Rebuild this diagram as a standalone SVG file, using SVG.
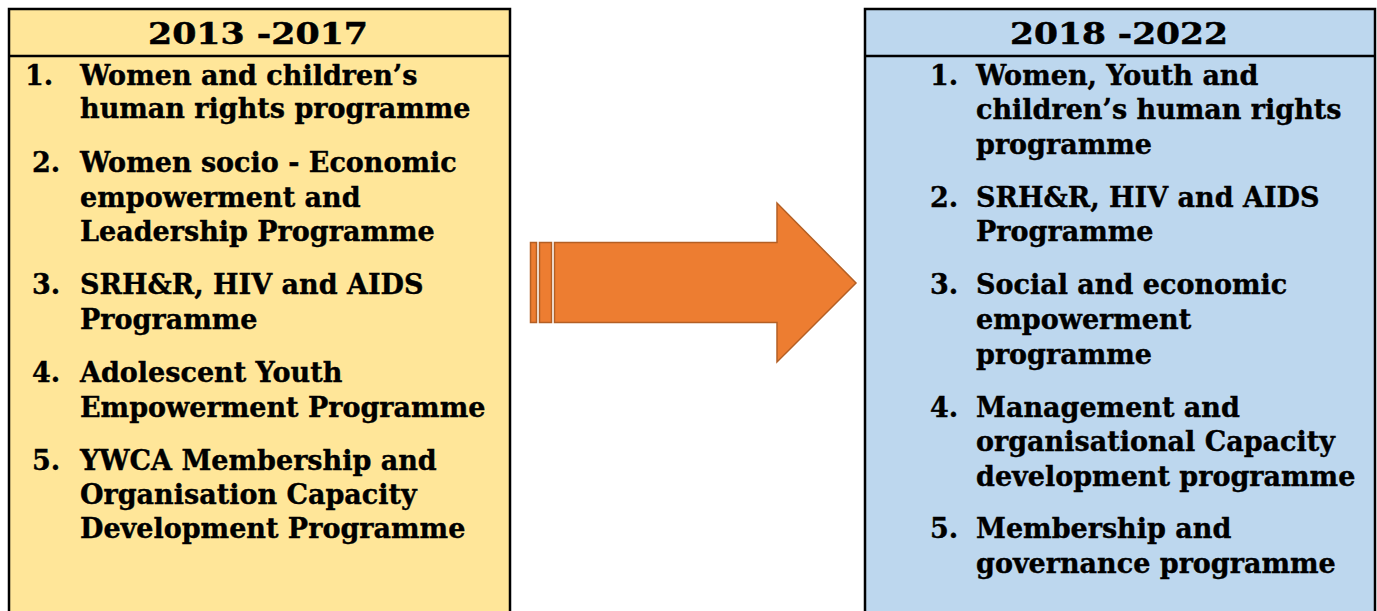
<svg xmlns="http://www.w3.org/2000/svg" width="1377" height="611" viewBox="0 0 1377 611">
<style>
.t{font-family:"DejaVu Serif","Liberation Serif",serif;font-weight:bold;font-size:27px;fill:#000;stroke:#000;stroke-width:0.4}
.h{font-family:"DejaVu Serif","Liberation Serif",serif;font-weight:bold;font-size:30px;fill:#000;stroke:#000;stroke-width:0.5}
.box{stroke:#000;stroke-width:2.5}
.ar{fill:#ED7D31;stroke:#B45F24;stroke-width:1.5}
</style>
<rect width="1377" height="611" fill="#fff"/>
<g id="left">
<rect class="box" x="9" y="9" width="501" height="620" fill="#FFE699"/>
<line class="box" x1="9" y1="56" x2="510" y2="56"/>
<text class="h" x="148" y="44" textLength="220" lengthAdjust="spacingAndGlyphs">2013 -2017</text>
<text class="t" x="25" y="85">1.</text>
<text class="t" x="80" y="85">Women and children’s</text>
<text class="t" x="80" y="118">human rights programme</text>
<text class="t" x="32" y="172">2.</text>
<text class="t" x="80" y="172">Women socio - Economic</text>
<text class="t" x="80" y="207">empowerment and</text>
<text class="t" x="80" y="241">Leadership Programme</text>
<text class="t" x="32" y="294">3.</text>
<text class="t" x="80" y="294">SRH&amp;R, HIV and AIDS</text>
<text class="t" x="80" y="329">Programme</text>
<text class="t" x="32" y="382">4.</text>
<text class="t" x="80" y="382">Adolescent Youth</text>
<text class="t" x="80" y="417">Empowerment Programme</text>
<text class="t" x="32" y="470">5.</text>
<text class="t" x="80" y="470">YWCA Membership and</text>
<text class="t" x="80" y="504">Organisation Capacity</text>
<text class="t" x="80" y="538">Development Programme</text>
</g>
<g id="right">
<rect class="box" x="865" y="9" width="510" height="620" fill="#BDD7EE"/>
<line class="box" x1="865" y1="56" x2="1375" y2="56"/>
<text class="h" x="1010" y="44" textLength="218" lengthAdjust="spacingAndGlyphs">2018 -2022</text>
<text class="t" x="930" y="85">1.</text>
<text class="t" x="976" y="85">Women, Youth and</text>
<text class="t" x="976" y="119">children’s human rights</text>
<text class="t" x="976" y="154">programme</text>
<text class="t" x="930" y="207">2.</text>
<text class="t" x="976" y="207">SRH&amp;R, HIV and AIDS</text>
<text class="t" x="976" y="241">Programme</text>
<text class="t" x="930" y="294">3.</text>
<text class="t" x="976" y="294">Social and economic</text>
<text class="t" x="976" y="329">empowerment</text>
<text class="t" x="976" y="364">programme</text>
<text class="t" x="930" y="417">4.</text>
<text class="t" x="976" y="417">Management and</text>
<text class="t" x="976" y="451">organisational Capacity</text>
<text class="t" x="976" y="486">development programme</text>
<text class="t" x="930" y="538">5.</text>
<text class="t" x="976" y="538">Membership and</text>
<text class="t" x="976" y="573">governance programme</text>
</g>
<g id="connectors">
<rect class="ar" x="530.5" y="242.5" width="6" height="80"/>
<rect class="ar" x="539.5" y="242.5" width="12" height="80"/>
<polygon class="ar" points="554.5,242.5 777,242.5 777,203 856,283 777,362 777,322.5 554.5,322.5"/>
</g>
</svg>
